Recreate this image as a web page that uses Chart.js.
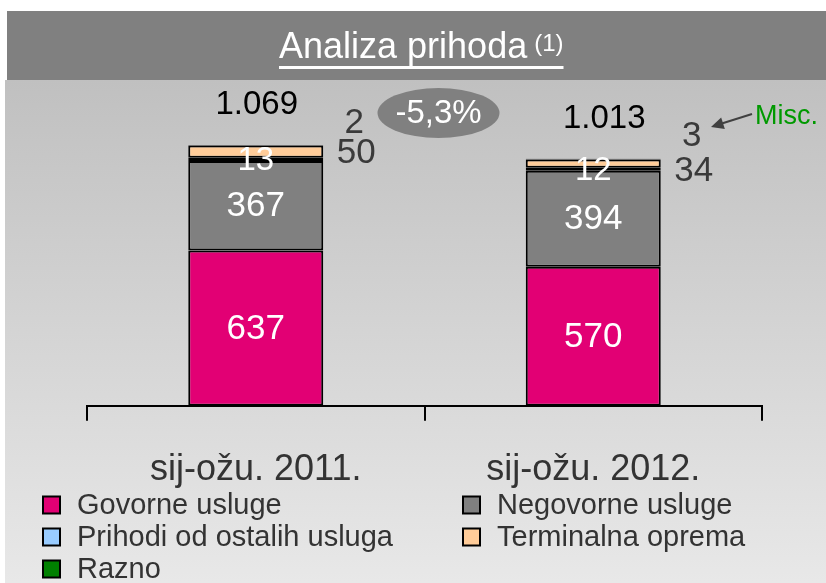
<!DOCTYPE html>
<html>
<head>
<meta charset="utf-8">
<script src="https://cdn.jsdelivr.net/npm/chart.js@4.4.1/dist/chart.umd.min.js"></script>
<style>
  html, body { margin: 0; padding: 0; background: #ffffff; }
  #wrap { width: 826px; height: 583px; position: relative; }
</style>
</head>
<body>
<div id="wrap"><canvas id="c" width="826" height="583"></canvas></div>
<script>
// ---- data ----
const categories = ['sij-ožu. 2011.', 'sij-ožu. 2012.'];
const seriesNames = ['Govorne usluge', 'Negovorne usluge', 'Prihodi od ostalih usluga', 'Terminalna oprema', 'Razno'];
const govorne = [637, 570];
const negovorne = [367, 394];
const ostale = [13, 12];
const terminalna = [50, 34];
const razno = [2, 3];
const totals = ['1.069', '1.013'];
const changeLabel = '-5,3%';
const titleText = 'Analiza prihoda';
const titleNote = '(1)';
const miscText = 'Misc.';

const FONT = '"Liberation Sans", Arial, sans-serif';
const colors = ['#e20074', '#808080', '#99ccff', '#ffcc99', '#008000'];

const bgPlugin = {
  id: 'bg',
  beforeDraw(chart) {
    const ctx = chart.ctx;
    ctx.save();
    ctx.fillStyle = '#ffffff';
    ctx.fillRect(0, 0, 826, 583);
    const g = ctx.createLinearGradient(0, 80, 0, 583);
    g.addColorStop(0, '#c0c0c0');
    g.addColorStop(1, '#e8e8e8');
    ctx.fillStyle = g;
    ctx.fillRect(5, 80, 821, 503);
    ctx.fillStyle = '#808080';
    ctx.fillRect(7, 11, 819, 69);
    // title
    ctx.fillStyle = '#ffffff';
    ctx.textBaseline = 'alphabetic';
    ctx.textAlign = 'left';
    ctx.font = '36px ' + FONT;
    const tx = 279;
    ctx.fillText(titleText, tx, 58);
    const tw = ctx.measureText(titleText).width;
    ctx.font = '24px ' + FONT;
    ctx.fillText(titleNote, tx + tw + 7, 51);
    const nw = ctx.measureText(titleNote).width;
    ctx.fillRect(tx, 66, tw + 7 + nw, 3);
    ctx.restore();
  }
};

const labelPlugin = {
  id: 'labels',
  afterDatasetsDraw(chart) {
    const ctx = chart.ctx;
    ctx.save();
    ctx.textAlign = 'center';
    ctx.textBaseline = 'middle';
    const metas = chart.data.datasets.map((d, i) => chart.getDatasetMeta(i));
    const termOffY = [2, 8];
    const totalOffX = [1, 11];
    for (let j = 0; j < categories.length; j++) {
      for (let i = 0; i < metas.length; i++) {
        const el = metas[i].data[j];
        const v = chart.data.datasets[i].data[j];
        const cy = (el.y + el.base) / 2;
        const right = el.x + el.width / 2;
        if (i <= 1) {
          ctx.fillStyle = '#ffffff';
          ctx.font = '35px ' + FONT;
          ctx.fillText(String(v), el.x, cy + 1);
        } else if (i === 2) {
          ctx.fillStyle = '#ffffff';
          ctx.font = '33px ' + FONT;
          ctx.fillText(String(v), el.x, cy + 2);
        } else if (i === 3) {
          ctx.fillStyle = '#3a3a3a';
          ctx.font = '35px ' + FONT;
          ctx.fillText(String(v), right + 33, cy + termOffY[j]);
        } else if (i === 4) {
          ctx.fillStyle = '#3a3a3a';
          ctx.font = '35px ' + FONT;
          ctx.fillText(String(v), right + 31, el.y - 22);
        }
      }
      const top = metas[metas.length - 1].data[j];
      ctx.fillStyle = '#000000';
      ctx.font = '33px ' + FONT;
      ctx.fillText(totals[j], top.x + totalOffX[j], top.y - 40);
    }
    // change ellipse between the bars
    const b0 = metas[0].data[0], b1 = metas[0].data[1];
    const ex = (b0.x + b1.x) / 2 + 14, ey = 113;
    ctx.fillStyle = '#808080';
    ctx.beginPath();
    ctx.ellipse(ex, ey, 61, 25, 0, 0, Math.PI * 2);
    ctx.fill();
    ctx.fillStyle = '#ffffff';
    ctx.font = '33px ' + FONT;
    ctx.fillText(changeLabel, ex, ey + 1);
    // Misc. annotation
    ctx.strokeStyle = '#404040';
    ctx.fillStyle = '#404040';
    ctx.lineWidth = 2;
    const ax0 = 752, ay0 = 114, ax1 = 711, ay1 = 127;
    ctx.beginPath();
    ctx.moveTo(ax0, ay0);
    ctx.lineTo(ax1 + 10, ay1 - 3.2);
    ctx.stroke();
    const ang = Math.atan2(ay1 - ay0, ax1 - ax0);
    ctx.beginPath();
    ctx.moveTo(ax1, ay1);
    ctx.lineTo(ax1 - 14 * Math.cos(ang - 0.45), ay1 - 14 * Math.sin(ang - 0.45));
    ctx.lineTo(ax1 - 14 * Math.cos(ang + 0.45), ay1 - 14 * Math.sin(ang + 0.45));
    ctx.closePath();
    ctx.fill();
    ctx.fillStyle = '#009900';
    ctx.font = '27px ' + FONT;
    ctx.textAlign = 'left';
    ctx.fillText(miscText, 755, 117);
    ctx.restore();
  },
  afterDraw(chart) {
    const ctx = chart.ctx;
    ctx.save();
    const cols = [43, 463];
    const rows = [505, 537, 569];
    ctx.font = '29px ' + FONT;
    ctx.textAlign = 'left';
    ctx.textBaseline = 'middle';
    chart.data.datasets.forEach((ds, i) => {
      const x = cols[i % 2];
      const y = rows[Math.floor(i / 2)];
      ctx.fillStyle = ds.backgroundColor;
      ctx.fillRect(x, y - 8.5, 17, 17);
      ctx.strokeStyle = '#000000';
      ctx.lineWidth = 2;
      ctx.strokeRect(x, y - 8.5, 17, 17);
      ctx.fillStyle = '#333333';
      ctx.fillText(ds.label, x + 34, y + 1);
    });
    ctx.restore();
  }
};

const seriesData = [govorne, negovorne, ostale, terminalna, razno];

new Chart(document.getElementById('c'), {
  type: 'bar',
  data: {
    labels: categories,
    datasets: seriesNames.map((name, i) => ({
      label: name,
      data: seriesData[i],
      backgroundColor: colors[i],
      borderColor: '#000000',
      borderWidth: 2,
      borderSkipped: false,
      categoryPercentage: 1.0,
      barPercentage: 0.4
    }))
  },
  options: {
    responsive: false,
    animation: false,
    devicePixelRatio: 1,
    layout: { padding: { top: 80, left: 87, right: 64, bottom: 63 } },
    plugins: { legend: { display: false }, tooltip: { enabled: false }, title: { display: false } },
    scales: {
      x: {
        stacked: true,
        border: { display: true, color: '#000000', width: 2 },
        grid: { offset: true, drawOnChartArea: false, drawTicks: true, tickLength: 15, color: '#000000', lineWidth: 2 },
        ticks: { color: '#333333', font: { family: FONT, size: 36 }, padding: 28 }
      },
      y: {
        stacked: true,
        display: false,
        min: 0,
        max: 1336
      }
    }
  },
  plugins: [bgPlugin, labelPlugin]
});
</script>
</body>
</html>
